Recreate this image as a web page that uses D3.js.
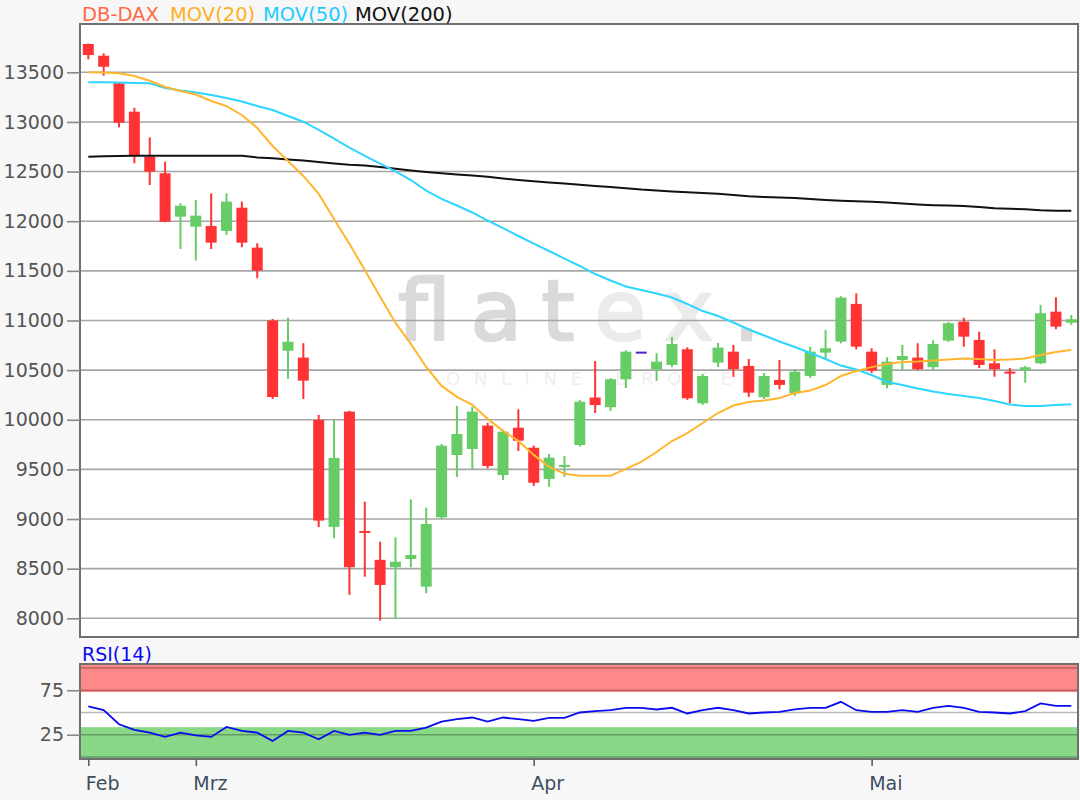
<!DOCTYPE html>
<html>
<head>
<meta charset="utf-8">
<script src="https://cdn.jsdelivr.net/npm/d3@7/dist/d3.min.js"></script>
<style>
  body { margin: 0; background: #f7f7f7; }
  svg { display: block; }
  text { font-family: "DejaVu Sans", Verdana, sans-serif; }
</style>
</head>
<body>
<div id="chart"></div>
<script>
// daily DB-DAX candles, 20 Feb - 20 May 2020
const opens = [13785, 13667, 13389, 13103, 12650, 12483, 12046, 11945, 11952, 11902,
  12136, 11734, 11000, 10696, 10626, 9999, 8921, 10082, 8880, 8589,
  8515, 8597, 8319, 9017, 9645, 9706, 9941, 9443, 9920, 9718,
  9404, 9530, 9746, 10224, 10126, 10408, 10686, 10509, 10552, 10710,
  10166, 10576, 10686, 10542, 10227, 10401, 10267, 10441, 10676, 10787,
  11167, 10686, 10351, 10602, 10626, 10529, 10797, 10988, 10804, 10569,
  10485, 10502, 10569, 11089, 10978];
const highs = [13790, 13691, 13400, 13143, 12845, 12600, 12181, 12214, 12281, 12281,
  12197, 11778, 11015, 11028, 10771, 10049, 9999, 10090, 9175, 8771,
  8816, 9199, 9114, 9756, 10139, 10132, 9970, 9900, 10105, 9740,
  9655, 9635, 10200, 10592, 10420, 10700, 10686, 10672, 10833, 10730,
  10460, 10774, 10754, 10612, 10470, 10602, 10510, 10736, 10905, 11245,
  11274, 10720, 10629, 10753, 10771, 10800, 10985, 11028, 10887, 10710,
  10522, 10542, 11157, 11234, 11055];
const lows = [13631, 13466, 12946, 12584, 12365, 11990, 11720, 11603, 11720, 11862,
  11738, 11426, 10209, 10410, 10209, 8918, 8807, 8236, 8419, 7977,
  8000, 8515, 8252, 9000, 9424, 9501, 9510, 9393, 9685, 9333,
  9324, 9426, 9730, 10068, 10088, 10320, 10686, 10391, 10530, 10200,
  10150, 10532, 10432, 10230, 10210, 10307, 10240, 10421, 10609, 10770,
  10710, 10472, 10317, 10502, 10500, 10500, 10785, 10736, 10520, 10434,
  10166, 10374, 10560, 10912, 10955];
const closes = [13674, 13556, 12992, 12667, 12499, 11995, 12156, 12056, 11784, 12197,
  11784, 11502, 10229, 10786, 10394, 8984, 9616, 8515, 8860, 8336,
  8570, 8638, 8950, 9739, 9856, 10082, 9534, 9880, 9789, 9366,
  9618, 9545, 10182, 10148, 10408, 10686, 10686, 10585, 10763, 10216,
  10441, 10727, 10509, 10273, 10441, 10351, 10484, 10686, 10720, 11230,
  10736, 10495, 10585, 10642, 10509, 10763, 10972, 10837, 10552, 10509,
  10465, 10529, 11073, 10938, 11012];

const mov20 = [13500, 13498, 13490, 13463, 13415, 13352, 13312, 13276, 13211, 13160,
  13070, 12939, 12758, 12607, 12456, 12275, 12023, 11772, 11509, 11238,
  10975, 10764, 10532, 10341, 10230, 10150, 10009, 9888, 9787, 9646,
  9525, 9455, 9435, 9435, 9435, 9505, 9576, 9675, 9786, 9866,
  9967, 10068, 10143, 10179, 10194, 10218, 10269, 10294, 10350, 10441,
  10491, 10530, 10561, 10581, 10586, 10597, 10607, 10617, 10612, 10602,
  10607, 10617, 10652, 10682, 10702];
const mov50 = [13399, 13399, 13397, 13392, 13389, 13342, 13317, 13297, 13271, 13241,
  13206, 13161, 13120, 13060, 13002, 12919, 12833, 12742, 12657, 12581,
  12501, 12415, 12309, 12224, 12158, 12088, 12007, 11931, 11851, 11775,
  11700, 11624, 11549, 11468, 11403, 11342, 11307, 11272, 11231, 11166,
  11095, 11045, 10980, 10909, 10849, 10788, 10733, 10672, 10612, 10546,
  10506, 10451, 10380, 10350, 10315, 10284, 10259, 10239, 10219, 10189,
  10153, 10138, 10138, 10148, 10155];
const mov200 = [12650, 12654, 12657, 12659, 12660, 12660, 12660, 12660, 12660, 12660,
  12660, 12642, 12634, 12622, 12611, 12596, 12581, 12568, 12561, 12546,
  12528, 12511, 12496, 12483, 12470, 12460, 12447, 12430, 12415, 12403,
  12390, 12380, 12367, 12355, 12345, 12333, 12319, 12309, 12299, 12291,
  12284, 12276, 12264, 12251, 12244, 12239, 12234, 12224, 12214, 12206,
  12200, 12195, 12188, 12178, 12168, 12161, 12157, 12153, 12143, 12131,
  12125, 12120, 12111, 12106, 12106];
const rsi14 = [56.8, 52.6, 36.8, 30.5, 27.4, 22.6, 27.4, 24.4, 22.6, 33.8,
  29.3, 27.4, 18.0, 29.3, 27.4, 19.9, 29.3, 24.8, 27.4, 24.8,
  29.3, 29.3, 33.1, 39.8, 42.5, 44.4, 39.8, 44.4, 42.5, 40.5,
  44.0, 44.0, 50.0, 51.5, 52.6, 55.3, 55.3, 53.4, 55.3, 48.9,
  52.6, 55.3, 52.6, 48.9, 50.0, 50.8, 53.4, 55.3, 55.3, 62.0,
  52.6, 50.8, 50.8, 52.6, 50.8, 55.3, 57.5, 55.3, 50.8, 50.0,
  48.9, 51.5, 60.2, 57.5, 57.5];

const priceTicks = [8000, 8500, 9000, 9500, 10000, 10500, 11000, 11500, 12000, 12500, 13000, 13500];
const rsiTicks = [25, 75];
const rsiGrid = [0, 25, 50, 75, 100];
const monthLabels = ['Jan', 'Feb', 'Mrz', 'Apr', 'Mai', 'Jun'];

// trading days (Mon-Fri)
const days = d3.timeDay.range(new Date(2020, 1, 20), new Date(2020, 4, 21))
    .filter(d => d.getDay() % 6 !== 0);
const fmt = d3.timeFormat('%Y-%m-%d');
const dayKeys = days.map(fmt);
const monthStarts = dayKeys.filter((k, i) => i === 0 || days[i].getMonth() !== days[i - 1].getMonth());

const plot = {left: 80, right: 1078, top: 24, bottom: 637};
const rsiBox = {top: 664, bottom: 759};

const svg = d3.select('#chart')
    .append('svg')
    .attr('width', 1080)
    .attr('height', 800);

const x = d3.scalePoint()
    .domain(dayKeys)
    .range([88.3, 1071.3]);

const y = d3.scaleLinear()
    .domain([8000, 13500])
    .range([618.3, 72.3]);

const yr = d3.scaleLinear()
    .domain([0, 100])
    .range([757, 668]);

// ---- main panel ----
svg.append('rect')
    .attr('x', plot.left).attr('y', plot.top)
    .attr('width', plot.right - plot.left).attr('height', plot.bottom - plot.top)
    .attr('fill', '#fff');

// watermark
let wm = svg.append('text')
    .attr('x', 398).attr('y', 340)
    .attr('textLength', 362)
    .attr('lengthAdjust', 'spacing')
    .attr('stroke-width', 2.5)
    .attr('stroke-linejoin', 'round')
    .style('font-size', '84px');
wm.append('tspan').attr('fill', '#dadada').attr('stroke', '#dadada').text('flat');
wm.append('tspan').attr('fill', '#ebebeb').attr('stroke', '#ebebeb').text('ex');
wm.append('tspan').attr('fill', '#dadada').attr('stroke', '#dadada').text('.');

svg.append('text')
    .attr('x', 446).attr('y', 385)
    .attr('textLength', 312)
    .attr('lengthAdjust', 'spacing')
    .attr('fill', '#efefef')
    .style('font-size', '18px')
    .text('ONLINE BROKER');

svg.append('g')
    .selectAll('line')
    .data(priceTicks)
    .join('line')
    .attr('x1', plot.left).attr('x2', plot.right)
    .attr('y1', d => y(d)).attr('y2', d => y(d))
    .attr('stroke', '#a6a6a6')
    .attr('stroke-width', 1.6);

const candles = dayKeys.map((k, i) => ({k, o: opens[i], h: highs[i], l: lows[i], c: closes[i]}));
const candleColor = d => d.c > d.o ? '#66cc66' : (d.c < d.o ? '#ff3333' : '#5522cc');

let cg = svg.append('g');
cg.selectAll('line')
    .data(candles)
    .join('line')
    .attr('x1', d => x(d.k)).attr('x2', d => x(d.k))
    .attr('y1', d => y(d.h)).attr('y2', d => y(d.l))
    .attr('stroke', candleColor)
    .attr('stroke-width', 2);
cg.selectAll('rect')
    .data(candles)
    .join('rect')
    .attr('x', d => x(d.k) - 5.5)
    .attr('width', 11)
    .attr('y', d => y(Math.max(d.o, d.c)))
    .attr('height', d => Math.max(2, Math.abs(y(d.o) - y(d.c))))
    .attr('fill', candleColor);

const maLine = d3.line()
    .x((d, i) => x(dayKeys[i]))
    .y(d => y(d));

[[mov200, '#111'], [mov50, '#2dd5ff'], [mov20, '#ffb52e']].forEach(([vals, col]) => {
    svg.append('path')
        .datum(vals)
        .attr('d', maLine)
        .attr('fill', 'none')
        .attr('stroke', col)
        .attr('stroke-width', 2);
});

svg.append('rect')
    .attr('x', plot.left).attr('y', plot.top)
    .attr('width', plot.right - plot.left).attr('height', plot.bottom - plot.top)
    .attr('fill', 'none')
    .attr('stroke', '#707070')
    .attr('stroke-width', 2);

const yAxis = d3.axisLeft(y)
    .tickValues(priceTicks)
    .tickSize(13)
    .tickPadding(3)
    .tickFormat(d3.format('d'));

let yg = svg.append('g')
    .attr('transform', `translate(${plot.left},0)`)
    .call(yAxis);
yg.select('.domain').remove();
yg.selectAll('line').attr('stroke', '#888').attr('stroke-width', 1.6);
yg.selectAll('text').attr('fill', '#555').style('font-size', '19px').style('font-family', '"DejaVu Sans", sans-serif');

// legend
const legend = [['DB-DAX', '#ff6a45', 82], ['MOV(20)', '#ffb01f', 170], ['MOV(50)', '#22ccff', 263], ['MOV(200)', '#111', 355]];
svg.append('g')
    .selectAll('text')
    .data(legend)
    .join('text')
    .attr('x', d => d[2]).attr('y', 20.5)
    .attr('fill', d => d[1])
    .style('font-size', '19.5px')
    .text(d => d[0]);

// ---- RSI panel ----
svg.append('rect')
    .attr('x', plot.left).attr('y', rsiBox.top)
    .attr('width', plot.right - plot.left).attr('height', rsiBox.bottom - rsiBox.top)
    .attr('fill', '#fff');
svg.append('rect')
    .attr('x', plot.left).attr('y', rsiBox.top)
    .attr('width', plot.right - plot.left).attr('height', yr(73) - rsiBox.top)
    .attr('fill', '#ff8888');
svg.append('rect')
    .attr('x', plot.left).attr('y', yr(33.5))
    .attr('width', plot.right - plot.left).attr('height', rsiBox.bottom - yr(33.5))
    .attr('fill', '#88d888');

svg.append('g')
    .selectAll('line')
    .data(rsiGrid)
    .join('line')
    .attr('x1', plot.left).attr('x2', plot.right)
    .attr('y1', d => yr(d)).attr('y2', d => yr(d))
    .attr('stroke', '#000')
    .attr('stroke-opacity', 0.28)
    .attr('stroke-width', 1.6);

svg.append('path')
    .datum(rsi14)
    .attr('d', d3.line().x((d, i) => x(dayKeys[i])).y(d => yr(d)))
    .attr('fill', 'none')
    .attr('stroke', '#0a0af0')
    .attr('stroke-width', 1.8);

svg.append('rect')
    .attr('x', plot.left).attr('y', rsiBox.top)
    .attr('width', plot.right - plot.left).attr('height', rsiBox.bottom - rsiBox.top)
    .attr('fill', 'none')
    .attr('stroke', '#707070')
    .attr('stroke-width', 2);

svg.append('text')
    .attr('x', 82).attr('y', 661)
    .attr('fill', '#0a0af0')
    .style('font-size', '19px')
    .text('RSI(14)');

let rg = svg.append('g')
    .attr('transform', `translate(${plot.left},0)`)
    .call(d3.axisLeft(yr).tickValues(rsiTicks).tickSize(13).tickPadding(3));
rg.select('.domain').remove();
rg.selectAll('line').attr('stroke', '#888').attr('stroke-width', 1.6);
rg.selectAll('text').attr('fill', '#555').style('font-size', '19px').style('font-family', '"DejaVu Sans", sans-serif');

// month axis
const xAxis = d3.axisBottom(x)
    .tickValues(monthStarts)
    .tickSize(7)
    .tickPadding(11)
    .tickFormat(k => monthLabels[+k.slice(5, 7) - 1]);

let xg = svg.append('g')
    .attr('transform', `translate(0,${rsiBox.bottom})`)
    .call(xAxis);
xg.select('.domain').remove();
xg.selectAll('line').attr('stroke', '#50606e').attr('stroke-width', 1.6);
xg.selectAll('text')
    .attr('text-anchor', 'start')
    .attr('x', -3)
    .attr('fill', '#3d4f5f')
    .style('font-size', '19px')
    .style('font-family', '"DejaVu Sans", sans-serif');
</script>
</body>
</html>
